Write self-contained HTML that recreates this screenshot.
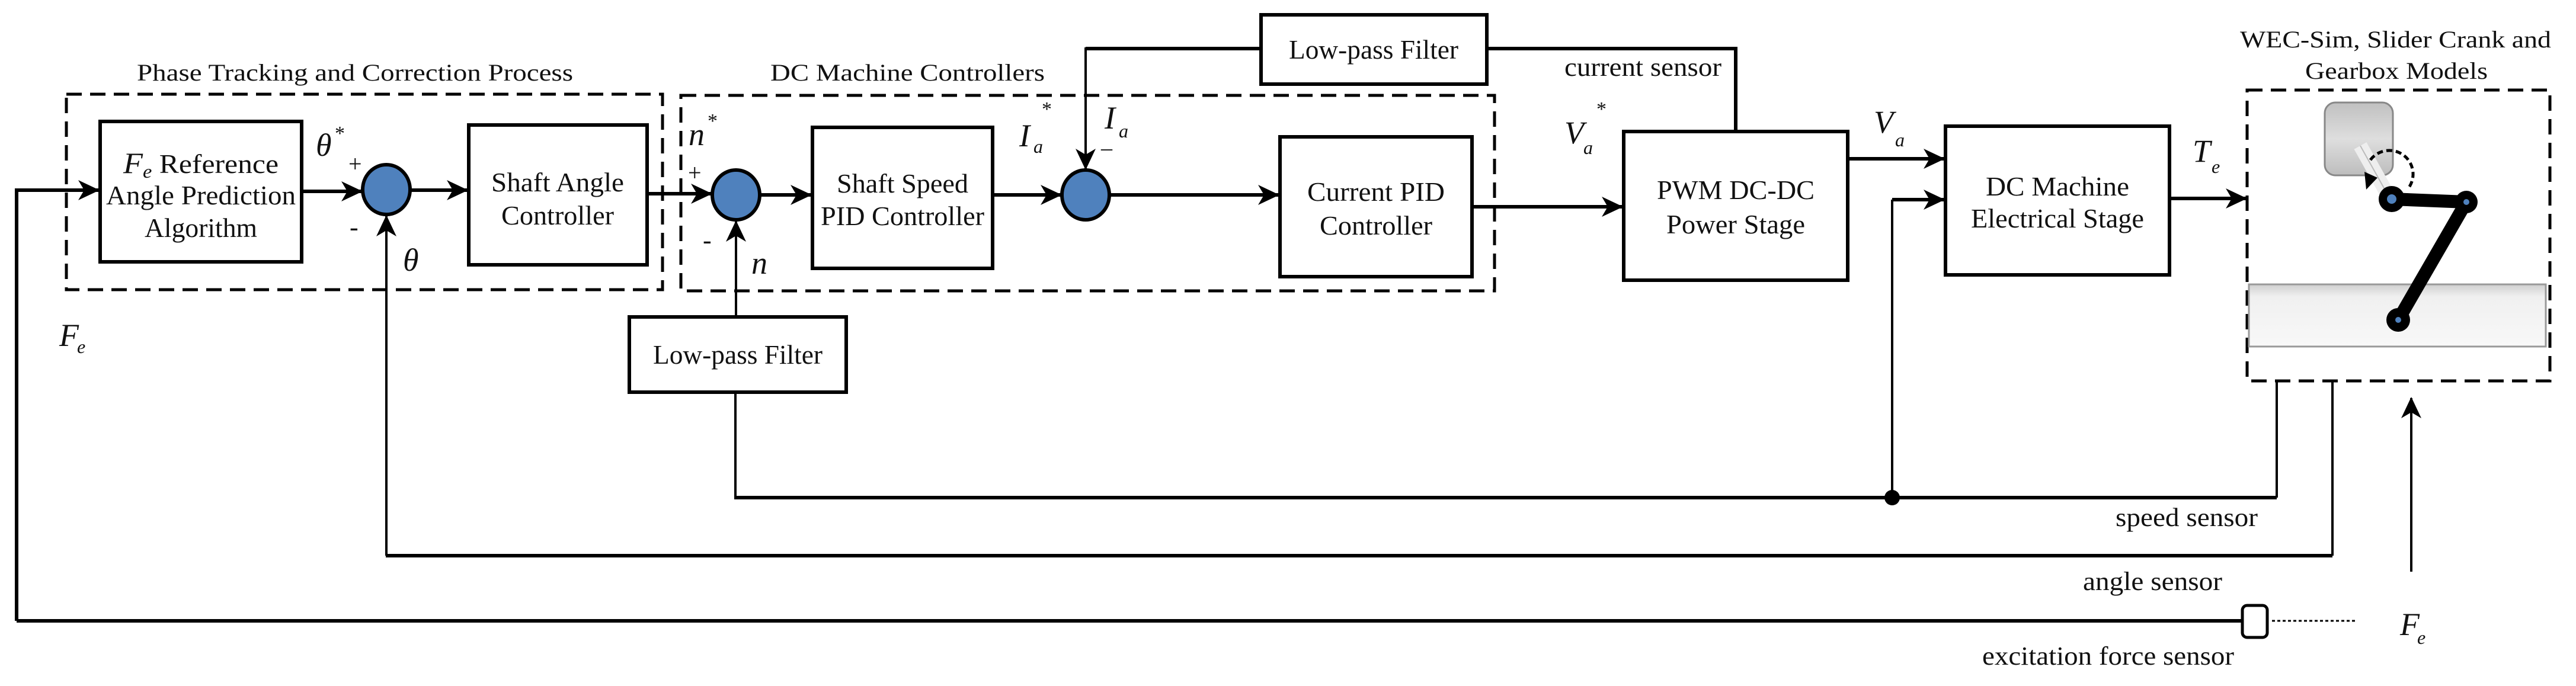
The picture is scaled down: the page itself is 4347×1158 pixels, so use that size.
<!DOCTYPE html>
<html><head><meta charset="utf-8"><style>
html,body{margin:0;padding:0;background:#fff;}
svg{display:block;}
text{font-family:"Liberation Serif",serif;fill:#111;}
.lbl{font-size:40px;}
.bl{font-size:46px;}
.it{font-style:italic;}
</style></head><body>
<svg width="4347" height="1158" viewBox="0 0 4347 1158" xmlns="http://www.w3.org/2000/svg">
<defs>
<marker id="a" markerUnits="userSpaceOnUse" markerWidth="40" markerHeight="34" refX="34" refY="17" orient="auto">
<path d="M0,0 L36,17 L0,34 L10,17 z" fill="#000"/>
</marker>
<linearGradient id="g1" x1="0" y1="0" x2="0" y2="1"><stop offset="0" stop-color="#c0c0c0"/><stop offset="0.5" stop-color="#dedede"/><stop offset="1" stop-color="#bdbdbd"/></linearGradient>
<linearGradient id="g2" x1="0" y1="0" x2="0" y2="1"><stop offset="0" stop-color="#cfcfcf"/><stop offset="0.2" stop-color="#f0f0f0"/><stop offset="1" stop-color="#f8f8f8"/></linearGradient>
</defs>

<g fill="none" stroke="#000" stroke-width="5" stroke-dasharray="26,14">
<rect x="112" y="159" width="1006" height="330"/>
<rect x="1149" y="161" width="1373" height="330"/>
<rect x="3792" y="152" width="511" height="491"/>
</g>

<text class="lbl" x="231" y="136" font-size="44" textLength="736" lengthAdjust="spacingAndGlyphs">Phase Tracking and Correction Process</text>
<text class="lbl" x="1300" y="136" font-size="44" textLength="463" lengthAdjust="spacingAndGlyphs">DC Machine Controllers</text>
<text class="lbl" x="3780" y="80" font-size="44" textLength="525" lengthAdjust="spacingAndGlyphs">WEC-Sim, Slider Crank and</text>
<text class="lbl" x="3890" y="133" font-size="44" textLength="308" lengthAdjust="spacingAndGlyphs">Gearbox Models</text>

<g fill="#fff" stroke="#000" stroke-width="6">
<rect x="169" y="205" width="340" height="237"/>
<rect x="791" y="211" width="301" height="236"/>
<rect x="1371" y="215" width="304" height="238"/>
<rect x="2160" y="231" width="324" height="236"/>
<rect x="2740" y="222" width="378" height="251"/>
<rect x="3283" y="213" width="378" height="251"/>
<rect x="2128" y="25" width="381" height="117"/>
<rect x="1062" y="535" width="366" height="127"/>
</g>

<g class="bl" text-anchor="middle">
<text x="339" y="292" textLength="262" lengthAdjust="spacingAndGlyphs"><tspan class="it" font-size="50">F</tspan><tspan class="it" font-size="32" dy="8">e</tspan><tspan dy="-8"> Reference</tspan></text>
<text x="339" y="345" textLength="320" lengthAdjust="spacingAndGlyphs">Angle Prediction</text>
<text x="339" y="400" textLength="190" lengthAdjust="spacingAndGlyphs">Algorithm</text>
<text x="941" y="323" textLength="224" lengthAdjust="spacingAndGlyphs">Shaft Angle</text>
<text x="941" y="379" textLength="190" lengthAdjust="spacingAndGlyphs">Controller</text>
<text x="1523" y="325" textLength="222" lengthAdjust="spacingAndGlyphs">Shaft Speed</text>
<text x="1523" y="380" textLength="276" lengthAdjust="spacingAndGlyphs">PID Controller</text>
<text x="2322" y="339" textLength="232" lengthAdjust="spacingAndGlyphs">Current PID</text>
<text x="2322" y="396" textLength="190" lengthAdjust="spacingAndGlyphs">Controller</text>
<text x="2929" y="336" textLength="266" lengthAdjust="spacingAndGlyphs">PWM DC-DC</text>
<text x="2929" y="394" textLength="234" lengthAdjust="spacingAndGlyphs">Power Stage</text>
<text x="3472" y="330" textLength="242" lengthAdjust="spacingAndGlyphs">DC Machine</text>
<text x="3472" y="384" textLength="292" lengthAdjust="spacingAndGlyphs">Electrical Stage</text>
<text x="2318" y="99" textLength="286" lengthAdjust="spacingAndGlyphs">Low-pass Filter</text>
<text x="1245" y="614" textLength="286" lengthAdjust="spacingAndGlyphs">Low-pass Filter</text>
</g>

<g fill="none" stroke="#000" stroke-width="6">
<polyline points="28,1048 28,321 166,321" marker-end="url(#a)"/>
<line x1="509" y1="323" x2="610" y2="323" marker-end="url(#a)"/>
<line x1="693" y1="321" x2="788" y2="321" marker-end="url(#a)"/>
<line x1="1092" y1="327" x2="1200" y2="327" marker-end="url(#a)"/>
<line x1="1283" y1="329" x2="1368" y2="329" marker-end="url(#a)"/>
<line x1="1675" y1="329" x2="1790" y2="329" marker-end="url(#a)"/>
<line x1="1873" y1="329" x2="2157" y2="329" marker-end="url(#a)"/>
<line x1="2484" y1="349" x2="2737" y2="349" marker-end="url(#a)"/>
<line x1="3118" y1="268" x2="3280" y2="268" marker-end="url(#a)"/>
<line x1="3661" y1="335" x2="3790" y2="335" marker-end="url(#a)"/>
<polyline points="2509,82 2929,82 2929,219"/>
<line x1="1832" y1="82" x2="2128" y2="82"/>
<line x1="3193" y1="337" x2="3280" y2="337" marker-end="url(#a)"/>
<line x1="1239" y1="840" x2="3842" y2="840"/>
<line x1="651" y1="938" x2="3936" y2="938"/>
<line x1="28" y1="1048" x2="3784" y2="1048"/>
</g>
<g fill="none" stroke="#000" stroke-width="4">
<line x1="1832" y1="80" x2="1832" y2="285" marker-end="url(#a)"/>
<line x1="652" y1="938" x2="652" y2="365" marker-end="url(#a)"/>
<line x1="1242" y1="535" x2="1242" y2="374" marker-end="url(#a)"/>
<line x1="1241" y1="662" x2="1241" y2="840"/>
<line x1="3193" y1="337" x2="3193" y2="840"/>
<line x1="3842" y1="643" x2="3842" y2="840"/>
<line x1="3936" y1="643" x2="3936" y2="938"/>
<line x1="4069" y1="965" x2="4069" y2="672" marker-end="url(#a)"/>
<line x1="3834" y1="1048" x2="3978" y2="1048" stroke-dasharray="5,4" stroke-width="3"/>
</g>
<circle cx="3193" cy="840" r="13" fill="#000"/>
<rect x="3784" y="1022" width="42" height="54" rx="8" fill="#fff" stroke="#000" stroke-width="5"/>

<g fill="#4f81bd" stroke="#000" stroke-width="6">
<ellipse cx="652" cy="320" rx="40" ry="42"/>
<ellipse cx="1242" cy="329" rx="40" ry="42"/>
<ellipse cx="1832" cy="329" rx="40" ry="42"/>
</g>

<g class="lbl">
<text class="it" x="533" y="263" font-size="54">θ</text><text x="565" y="236" font-size="34">*</text>
<text x="588" y="290" font-size="40">+</text>
<text x="590" y="398" font-size="44">-</text>
<text class="it" x="680" y="457" font-size="54">θ</text>
<text class="it" x="1162" y="245" font-size="54">n</text><text x="1194" y="215" font-size="34">*</text>
<text x="1161" y="305" font-size="40">+</text>
<text x="1186" y="420" font-size="44">-</text>
<text class="it" x="1268" y="462" font-size="54">n</text>
<text class="it" x="1720" y="247" font-size="54">I</text><text class="it" x="1744" y="258" font-size="32">a</text><text x="1758" y="195" font-size="34">*</text>
<text class="it" x="1864" y="217" font-size="54">I</text><text class="it" x="1888" y="232" font-size="32">a</text>
<text x="1858" y="262" font-size="38">–</text>
<text class="it" x="2640" y="242" font-size="54">V</text><text class="it" x="2672" y="260" font-size="32">a</text><text x="2694" y="195" font-size="34">*</text>
<text class="it" x="3162" y="224" font-size="54">V</text><text class="it" x="3198" y="247" font-size="32">a</text>
<text class="it" x="3700" y="273" font-size="54">T</text><text class="it" x="3732" y="292" font-size="32">e</text>
<text class="it" x="100" y="584" font-size="54">F</text><text class="it" x="130" y="596" font-size="32">e</text>
<text class="it" x="4050" y="1072" font-size="54">F</text><text class="it" x="4079" y="1087" font-size="32">e</text>
<text x="2640" y="128" font-size="44" textLength="265" lengthAdjust="spacingAndGlyphs">current sensor</text>
<text x="3570" y="888" font-size="44" textLength="240" lengthAdjust="spacingAndGlyphs">speed sensor</text>
<text x="3515" y="996" font-size="44" textLength="235" lengthAdjust="spacingAndGlyphs">angle sensor</text>
<text x="3345" y="1122" font-size="44" textLength="425" lengthAdjust="spacingAndGlyphs">excitation force sensor</text>
</g>

<rect x="3795" y="480" width="501" height="105" fill="url(#g2)" stroke="#999" stroke-width="3"/>
<rect x="3923" y="173" width="115" height="123" rx="18" fill="url(#g1)" stroke="#888" stroke-width="3"/>
<line x1="3983" y1="246" x2="4030" y2="330" stroke="#eee" stroke-width="24"/>
<line x1="3983" y1="246" x2="4030" y2="330" stroke="#bbb" stroke-width="2"/>
<path d="M4000,270 A36,36 0 1 1 4064,318" fill="none" stroke="#000" stroke-width="5" stroke-dasharray="10,6"/>
<path d="M3990,290 L4012,300 L3993,320 z" fill="#000"/>
<g stroke="#000" stroke-linecap="round" stroke-width="22">
<line x1="4036" y1="336" x2="4162" y2="341"/>
<line x1="4162" y1="341" x2="4047" y2="540"/>
</g>
<circle cx="4036" cy="336" r="22" fill="#000"/><circle cx="4036" cy="336" r="8" fill="#4f81bd"/>
<circle cx="4162" cy="341" r="19" fill="#000"/><circle cx="4162" cy="341" r="5" fill="#4f81bd"/>
<circle cx="4047" cy="540" r="20" fill="#000"/><circle cx="4047" cy="540" r="5" fill="#4f81bd"/>
</svg>
</body></html>
